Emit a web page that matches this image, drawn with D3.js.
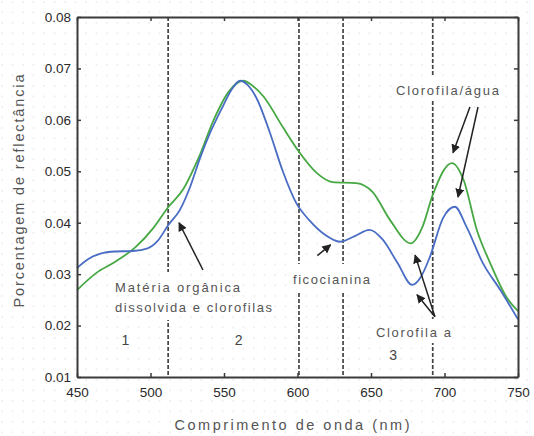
<!DOCTYPE html>
<html>
<head>
<meta charset="utf-8">
<script src="https://cdn.jsdelivr.net/npm/d3@7"></script>
<style>
  html, body { margin: 0; padding: 0; background: #fff; }
  svg { display: block; }
  text { font-family: "Liberation Sans", Arial, sans-serif; }
</style>
</head>
<body>
<svg id="chart" width="534" height="436"></svg>
<script>
// ---- data ----
const blueWavelength = [450, 458, 466, 476, 488, 498, 505, 512, 520, 527, 534, 540, 549, 555, 561, 566, 572, 581, 590, 599, 608, 618, 629, 639, 649, 658, 668, 678, 684, 690, 699, 707, 715, 726, 738, 750];
const blueReflectance = [0.0312, 0.0330, 0.0340, 0.0344, 0.0345, 0.0350, 0.0365, 0.0395, 0.0425, 0.0470, 0.0528, 0.0571, 0.0625, 0.0658, 0.0676, 0.0668, 0.0643, 0.0577, 0.0500, 0.0439, 0.0405, 0.0378, 0.0363, 0.0374, 0.0386, 0.0367, 0.0322, 0.0279, 0.0295, 0.0333, 0.0409, 0.0431, 0.0392, 0.0322, 0.0269, 0.0212];

const greenWavelength = [450, 463, 476, 490, 502, 512, 522, 533, 543, 553, 563, 570, 577, 590, 601, 613, 624, 640, 651, 663, 677, 685, 692, 705, 713, 722, 731, 742, 750];
const greenReflectance = [0.0269, 0.0302, 0.0324, 0.0353, 0.0390, 0.0430, 0.0464, 0.0528, 0.0600, 0.0654, 0.0676, 0.0665, 0.0645, 0.0586, 0.0538, 0.0497, 0.0479, 0.0477, 0.0460, 0.0405, 0.0360, 0.0392, 0.0454, 0.0516, 0.0483, 0.0386, 0.0322, 0.0256, 0.0228];

const xTicks = [450, 500, 550, 600, 650, 700, 750];
const yTicks = [0.01, 0.02, 0.03, 0.04, 0.05, 0.06, 0.07, 0.08];
const regionBoundaries = [512, 601, 631, 692];
const regionLabels = ["1", "2", "3"];
const xTitle = "Comprimento de onda (nm)";
const yTitle = "Porcentagem de reflectância";

// ---- layout ----
const svg = d3.select("#chart");
const W = 534, H = 436;
const m = { left: 77, right: 16, top: 17, bottom: 59 };
const x = d3.scaleLinear().domain([450, 750]).range([m.left, W - m.right]);
const y = d3.scaleLinear().domain([0.01, 0.08]).range([H - m.bottom, m.top]);

// dotted background (scan texture)
const defs = svg.append("defs");
const pat = defs.append("pattern").attr("id", "dots").attr("width", 10.5).attr("height", 10.5)
  .attr("patternUnits", "userSpaceOnUse");
pat.append("circle").attr("cx", 2).attr("cy", 2).attr("r", 0.7).attr("fill", "#d6d6d6");
svg.append("rect").attr("width", W).attr("height", H).attr("fill", "#fff");
svg.append("rect").attr("width", W).attr("height", H).attr("fill", "url(#dots)");

const axisColor = "#3a3a3a";

// dashed region boundaries
svg.append("g").selectAll("line").data(regionBoundaries).join("line")
  .attr("x1", d => x(d)).attr("x2", d => x(d))
  .attr("y1", y(0.08)).attr("y2", y(0.01))
  .attr("stroke", "#444").attr("stroke-width", 1.7).attr("stroke-dasharray", "4,2");

// curves
const line = d3.line().curve(d3.curveMonotoneX);
svg.append("path")
  .attr("d", line(greenWavelength.map((w, i) => [x(w), y(greenReflectance[i])])))
  .attr("fill", "none").attr("stroke", "#46a843").attr("stroke-width", 1.8);
svg.append("path")
  .attr("d", line(blueWavelength.map((w, i) => [x(w), y(blueReflectance[i])])))
  .attr("fill", "none").attr("stroke", "#4a6dc4").attr("stroke-width", 1.8);

// axes (box with inward ticks)
const xAxisB = d3.axisBottom(x).tickValues(xTicks).tickSizeInner(-4).tickSizeOuter(0).tickPadding(10).tickFormat(d3.format("d"));
const xAxisT = d3.axisTop(x).tickValues(xTicks).tickSizeInner(-4).tickSizeOuter(0).tickFormat("");
const yAxisL = d3.axisLeft(y).tickValues(yTicks).tickSizeInner(-4).tickSizeOuter(0).tickPadding(6).tickFormat(d3.format(".2f"));
const yAxisR = d3.axisRight(y).tickValues(yTicks).tickSizeInner(-4).tickSizeOuter(0).tickFormat("");

function styleAxis(g) {
  g.select(".domain").attr("stroke", axisColor).attr("stroke-width", 2);
  g.selectAll(".tick line").attr("stroke", axisColor).attr("stroke-width", 1.5);
  g.selectAll(".tick text").attr("fill", "#2a2a2a").style("font-size", "13.5px")
    .style("font-family", "'Liberation Sans', Arial, sans-serif");
}
svg.append("g").attr("transform", `translate(0,${y(0.01)})`).call(xAxisB).call(styleAxis);
svg.append("g").attr("transform", `translate(0,${y(0.08)})`).call(xAxisT).call(styleAxis);
svg.append("g").attr("transform", `translate(${x(450)},0)`).call(yAxisL).call(styleAxis);
svg.append("g").attr("transform", `translate(${x(750)},0)`).call(yAxisR).call(styleAxis);

// axis titles
svg.append("text").attr("x", 292).attr("y", 430).attr("text-anchor", "middle")
  .attr("fill", "#555").style("font-size", "14.5px")
  .attr("textLength", 235).attr("lengthAdjust", "spacing").text(xTitle);
svg.append("text").attr("transform", "translate(24,191) rotate(-90)").attr("text-anchor", "middle")
  .attr("fill", "#555").style("font-size", "14.5px")
  .attr("textLength", 233).attr("lengthAdjust", "spacing").text(yTitle);

// annotation helpers
const annColor = "#555";
function label(str, px, py, len, anchor) {
  const t = svg.append("text").attr("x", px).attr("y", py).attr("fill", annColor)
    .attr("text-anchor", anchor || "start").style("font-size", "13px").text(str);
  if (len) t.attr("textLength", len).attr("lengthAdjust", "spacing");
  return t;
}
function mask(x0, y0, x1, y1) {
  svg.append("rect").attr("x", x0).attr("y", y0).attr("width", x1 - x0).attr("height", y1 - y0).attr("fill", "#fff");
}
defs.append("marker").attr("id", "arrow").attr("viewBox", "0 0 10 10").attr("refX", 9).attr("refY", 5)
  .attr("markerWidth", 9).attr("markerHeight", 9).attr("markerUnits", "userSpaceOnUse").attr("orient", "auto")
  .append("path").attr("d", "M0,0 L10,5 L0,10 z").attr("fill", "#222");
function arrow(w0, v0, w1, v1) {
  svg.append("line").attr("x1", x(w0)).attr("y1", y(v0)).attr("x2", x(w1)).attr("y2", y(v1))
    .attr("stroke", "#222").attr("stroke-width", 1.5).attr("marker-end", "url(#arrow)");
}

// masks behind labels (break dashed lines)
mask(160, 272, 180, 320);
mask(290, 264, 374, 292);
mask(425, 319, 445, 343);
mask(425, 76, 445, 100);

label("Matéria orgânica", 115, 292, 125);
label("dissolvida e clorofilas", 115, 312, 157);
label("ficocianina", 293, 284, 77);
label("Clorofila a", 376, 337, 75);
label("Clorofila/água", 396, 95, 103);

// region numbers
label(regionLabels[0], x(483), 345, null, "middle").style("font-size", "14px").attr("fill", "#444");
label(regionLabels[1], x(560), 345, null, "middle").style("font-size", "14px").attr("fill", "#444");
label(regionLabels[2], x(665), 360, null, "middle").style("font-size", "14px").attr("fill", "#444");

// arrows
arrow(535.7, 0.0308, 519.4, 0.0400);
arrow(613.5, 0.0336, 622.5, 0.0357);
arrow(693.5, 0.0217, 680.0, 0.0337);
arrow(693.5, 0.0217, 681.3, 0.0260);
arrow(717.3, 0.0625, 705.8, 0.0536);
arrow(722.8, 0.0625, 709.2, 0.0450);
</script>
</body>
</html>
